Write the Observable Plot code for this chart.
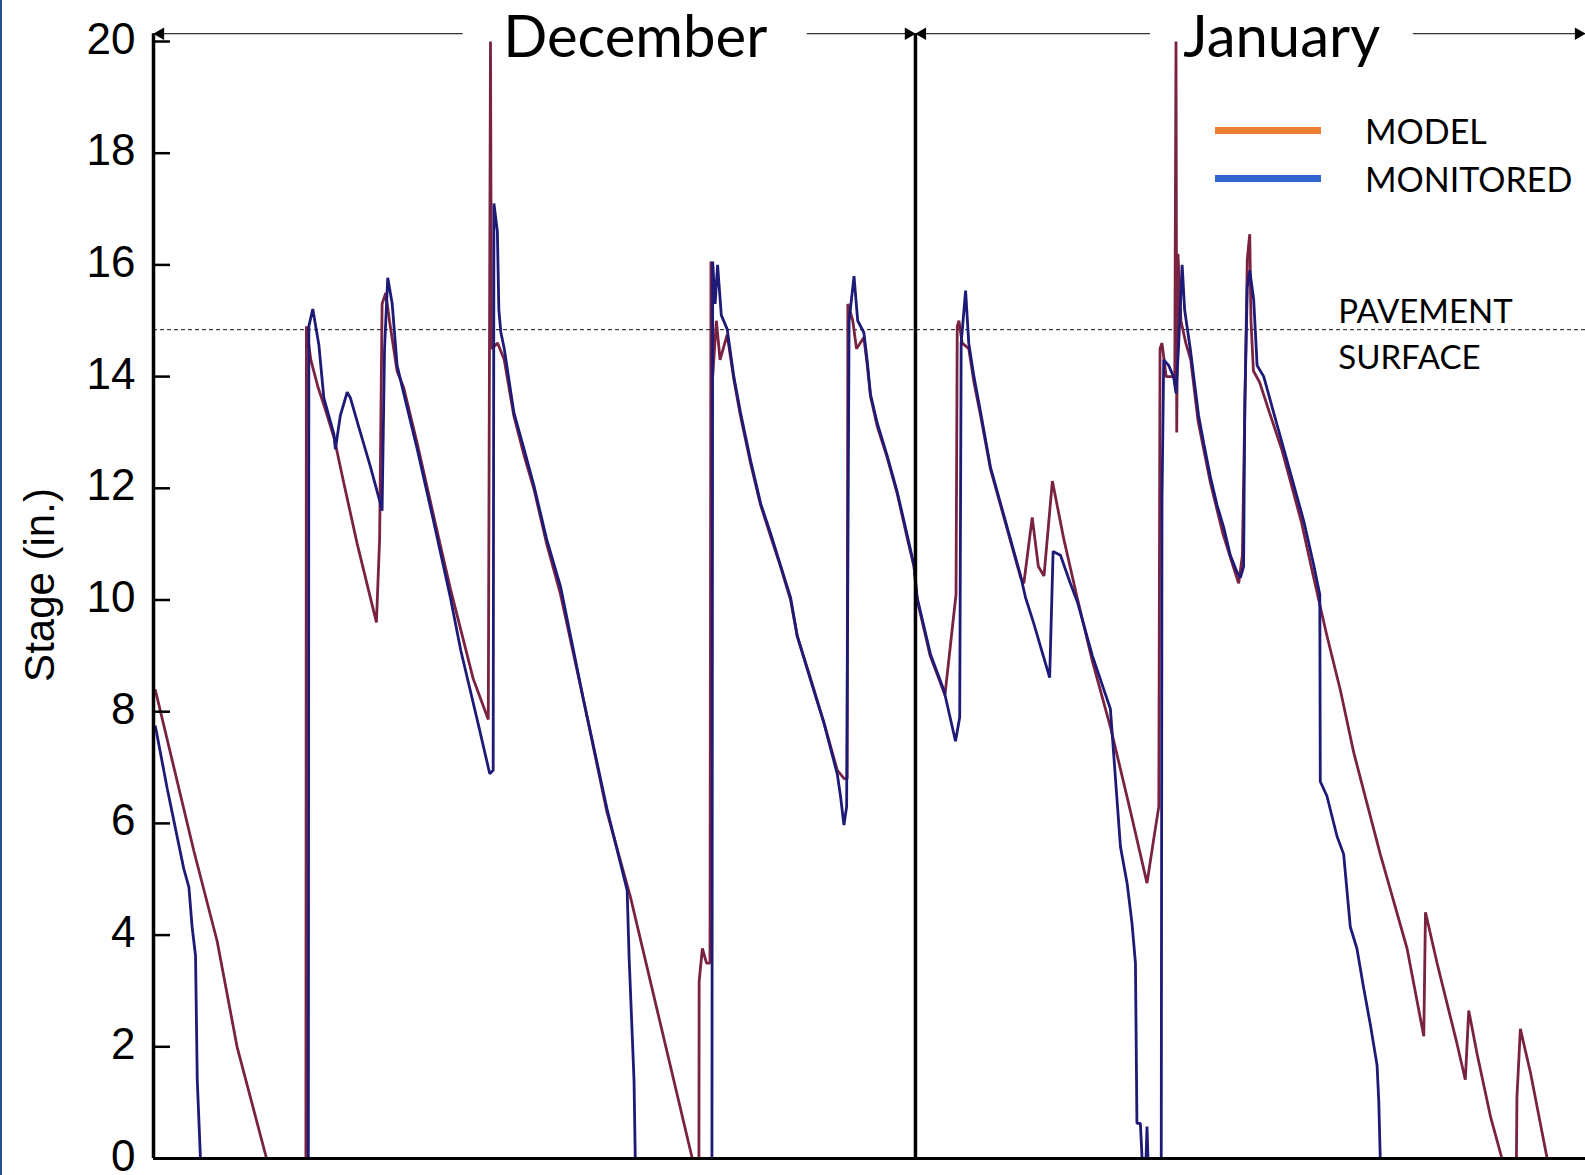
<!DOCTYPE html>
<html>
<head>
<meta charset="utf-8">
<script src="https://cdn.jsdelivr.net/npm/d3@7"></script>
<script src="https://cdn.jsdelivr.net/npm/@observablehq/plot@0.6"></script>
<style>
  html, body { margin: 0; padding: 0; background: #fff; }
  #wrap { position: relative; width: 1585px; height: 1175px; overflow: hidden; }
  #edge { position: absolute; left: 0; top: 0; width: 2px; height: 1175px; background: #24508c; }
  .sw { position: absolute; left: 1215px; width: 106px; height: 7px; }
  .lt { position: absolute; left: 1365px; font-family: Lato, "Open Sans", sans-serif; font-size: 34px; line-height: 34px; color: #000; white-space: nowrap; }
  svg g[aria-label="y-axis tick label"] text { font-family: "Liberation Sans", Arial, sans-serif; font-size: 44px; fill: #000; }
</style>
</head>
<body>
<div id="wrap"><div id="edge"></div></div>
<script>
// ---- data (x = days since 1 December, y = stage in inches) ----
const yTicks = [0, 2, 4, 6, 8, 10, 12, 14, 16, 18, 20];
const yLabel = "Stage (in.)";
const pavementStage = 14.84;
const pavementLabel = ["PAVEMENT", "SURFACE"];
const monthNames = ["December", "January"];
const monthLabelX = [19.6, 45.9];
const monthBoundary = 31;
const xEnd = 58.26;
const topLineY = 20.14;
const monthArrows = [
  {x1: 12.6, x2: 0}, {x1: 26.6, x2: 31}, {x1: 40.56, x2: 31}, {x1: 51.26, x2: 58.26}
];
const seriesNames = ["MODEL", "MONITORED"];
const legendColors = ["#ED7D31", "#3366CC"];
const lineColors = ["#7a2242", "#1e1a78"];

const model = [
  [0.08,8.38],[1.64,5.51],[2.59,3.89],[3.4,2.0],[4.6,0],
  [6.2,0],[6.22,14.9],[6.4,14.3],[6.7,13.8],[7.0,13.4],[7.35,12.9],[7.74,12.1],[8.29,11.0],[9.07,9.6],
  [9.2,11.1],[9.3,15.3],[9.45,15.5],[9.6,15.0],[9.91,14.1],[10.18,13.8],[10.73,12.8],[11.4,11.5],
  [12.08,10.2],[13.0,8.6],[13.62,7.86],
  [13.71,20.0],[13.75,14.5],[14.0,14.6],[14.27,14.3],[14.66,13.3],[15.07,12.6],[15.47,12.0],[16.0,11.0],
  [16.56,10.1],[17.5,8.2],[18.45,6.2],[19.41,4.67],[21.92,0],
  [22.19,0],[22.2,3.17],[22.33,3.76],[22.5,3.5],[22.64,3.5],[22.68,16.06],[22.75,14.0],[22.9,15.0],
  [23.05,14.3],[23.34,14.75],[23.61,13.95],[23.88,13.3],[24.29,12.45],[24.7,11.7],[25.1,11.15],
  [25.51,10.6],[25.92,10.0],[26.19,9.35],[26.73,8.6],[27.28,7.8],[27.82,6.95],[28.1,6.8],[28.22,6.8],
  [28.25,15.3],[28.45,15.0],[28.6,14.5],[28.9,14.7],[29.04,14.2],[29.17,13.65],[29.45,13.1],[29.85,12.55],
  [30.26,11.9],[30.67,11.1],[30.94,10.6],[31.07,10.0],[31.6,9.0],[32.2,8.3],[32.5,9.5],[32.65,10.1],
  [32.7,14.9],[32.77,15.0],[32.9,14.6],[33.17,14.5],[33.38,13.9],[33.65,13.3],[34.05,12.35],[34.46,11.7],
  [34.87,11.05],[35.28,10.4],[35.41,10.3],[35.75,11.48],[36.0,10.6],[36.23,10.43],[36.57,12.13],
  [37.04,11.08],[37.58,10.04],[38.2,8.9],[38.93,7.73],[39.74,6.23],[40.42,4.93],[40.69,5.71],[40.9,6.3],
  [40.95,14.5],[41.03,14.6],[41.2,14.0],[41.55,14.0],[41.6,20.0],[41.63,13.0],[41.68,16.2],[41.8,15.0],
  [42.0,14.6],[42.2,14.3],[42.5,13.2],[43.0,12.1],[43.5,11.2],[44.0,10.5],[44.15,10.3],[44.3,10.8],
  [44.35,12.1],[44.5,16.1],[44.6,16.55],[44.65,15.0],[44.75,14.1],[45.0,13.9],[45.4,13.36],[45.9,12.7],
  [46.3,12.05],[46.7,11.4],[47.1,10.6],[47.47,9.88],[47.74,9.36],[48.29,8.38],[48.83,7.27],[49.37,6.36],
  [49.91,5.45],[50.46,4.6],[51.0,3.76],[51.68,2.19],[51.75,4.41],[52.22,3.5],[53.03,2.06],[53.37,1.41],
  [53.51,2.65],[53.85,1.87],[54.39,0.76],[54.86,0],[55.45,0],[55.47,1.09],[55.61,2.32],[56.02,1.54],
  [56.7,0],[58.26,0]
];

const monitored = [
  [0.08,7.73],[0.56,6.62],[1.23,5.19],[1.44,4.86],[1.57,4.15],[1.71,3.63],[1.78,1.41],[1.91,0],
  [6.3,0],[6.32,14.9],[6.48,15.21],[6.73,14.56],[6.93,13.62],[7.34,12.97],[7.4,12.7],[7.6,13.3],
  [7.88,13.72],[8.01,13.62],[8.35,13.1],[8.83,12.38],[9.23,11.73],[9.3,11.6],[9.4,14.5],[9.53,15.77],
  [9.71,15.31],[9.91,14.2],[10.18,13.7],[10.73,12.7],[11.4,11.4],[12.08,10.04],[12.5,9.1],[13.2,7.8],
  [13.68,6.89],[13.82,6.95],[13.85,17.1],[13.99,16.6],[14.05,15.2],[14.13,14.8],[14.27,14.5],
  [14.66,13.36],[15.07,12.71],[15.47,12.06],[16.0,11.08],[16.56,10.24],[17.5,8.2],[18.45,6.26],
  [19.27,4.8],[19.35,3.6],[19.55,1.4],[19.6,0],
  [22.72,0],[22.75,16.06],[22.85,15.3],[22.95,16.0],[23.1,15.1],[23.34,14.85],[23.61,14.0],[23.88,13.36],
  [24.29,12.5],[24.7,11.73],[25.1,11.2],[25.51,10.62],[25.92,10.04],[26.19,9.36],[26.73,8.57],[27.28,7.79],
  [27.82,6.88],[27.95,6.49],[28.09,5.97],[28.2,6.3],[28.3,15.0],[28.5,15.8],[28.65,15.0],[28.9,14.79],
  [29.04,14.27],[29.17,13.68],[29.45,13.16],[29.85,12.58],[30.26,11.93],[30.67,11.15],[30.94,10.62],
  [31.07,10.04],[31.61,9.03],[32.16,8.38],[32.63,7.47],[32.8,7.9],[32.86,14.6],[33.04,15.54],[33.17,14.59],
  [33.38,14.0],[33.65,13.36],[34.05,12.38],[34.46,11.73],[34.87,11.08],[35.28,10.43],[35.48,10.04],
  [35.8,9.6],[36.2,9.0],[36.46,8.61],[36.6,10.87],[36.9,10.8],[37.3,10.3],[37.6,9.95],[38.2,9.0],
  [38.93,8.05],[39.34,5.58],[39.61,4.93],[39.81,4.21],[39.95,3.5],[40.01,0.63],[40.15,0.63],[40.22,0],
  [40.38,0],[40.42,0.57],[40.46,0],[41.0,0],[41.03,11.8],[41.1,14.3],[41.3,14.2],[41.5,14.0],[41.6,13.7],
  [41.7,14.5],[41.85,16.0],[41.95,15.2],[42.18,14.5],[42.32,14.0],[42.52,13.3],[42.73,12.8],[43.0,12.2],
  [43.27,11.7],[43.54,11.3],[43.81,10.8],[44.08,10.5],[44.22,10.4],[44.35,10.6],[44.4,13.5],[44.5,15.6],
  [44.6,15.9],[44.76,15.38],[44.9,14.2],[45.17,14.0],[45.57,13.36],[45.98,12.71],[46.39,12.06],
  [46.8,11.41],[47.2,10.63],[47.45,10.1],[47.47,6.75],[47.74,6.49],[48.15,5.77],[48.42,5.45],[48.69,4.15],
  [48.96,3.76],[49.24,3.04],[49.51,2.39],[49.78,1.67],[49.85,1.02],[49.91,0],[58.26,0]
];

// ---- chart ----
const fontTitle = "Lato, 'Open Sans', sans-serif";
const months = monthNames.map((name, i) => ({name, x: monthLabelX[i]}));
const leftArrows = monthArrows.filter(d => d.x2 < d.x1);
const rightArrows = monthArrows.filter(d => d.x2 > d.x1);

const chart = Plot.plot({
  width: 1585,
  height: 1175,
  marginLeft: 153,
  marginRight: 0,
  marginTop: 41,
  marginBottom: 17,
  style: {background: "transparent", overflow: "visible"},
  x: {domain: [0, xEnd], axis: null},
  y: {domain: [0, 20], axis: null},
  marks: [
    // pavement surface
    Plot.ruleY([pavementStage], {stroke: "#111", strokeWidth: 1, strokeDasharray: "4,3"}),
    Plot.text([pavementLabel[0]], {x: 48.2, y: pavementStage, text: d => d, textAnchor: "start", lineAnchor: "bottom", dy: -7, fontSize: 33, fontFamily: fontTitle, fill: "#000"}),
    Plot.text([pavementLabel[1]], {x: 48.2, y: pavementStage, text: d => d, textAnchor: "start", lineAnchor: "top", dy: 16, fontSize: 33, fontFamily: fontTitle, fill: "#000"}),
    // series
    Plot.line(model, {x: d => d[0], y: d => d[1], stroke: lineColors[0], strokeWidth: 2.8, strokeLinejoin: "miter"}),
    Plot.line(monitored, {x: d => d[0], y: d => d[1], stroke: lineColors[1], strokeWidth: 2.8, strokeLinejoin: "miter"}),
    // frame
    Plot.ruleX([0], {y1: 0, y2: topLineY, stroke: "#000", strokeWidth: 3.5}),
    Plot.ruleY([0], {stroke: "#000", strokeWidth: 3}),
    Plot.ruleX([monthBoundary], {y1: 0, y2: topLineY, stroke: "#000", strokeWidth: 3.5}),
    // y axis ticks (inward) and labels
    Plot.axisY(yTicks, {anchor: "left", tickSize: -17, tickFormat: () => "", strokeWidth: 2.5, stroke: "#000"}),
    Plot.axisY(yTicks, {anchor: "left", tickSize: 0, tickPadding: 18, dy: -2, tickFormat: d => String(d), label: null}),
    Plot.text([yLabel], {frameAnchor: "left", text: d => d, rotate: -90, textAnchor: "middle", dx: -100, dy: -15, lineAnchor: "bottom", fontSize: 42, fontFamily: "'Liberation Sans', Arial, sans-serif", fill: "#000"}),
    // month span arrows
    Plot.ruleY(monthArrows, {x1: "x1", x2: "x2", y: topLineY, stroke: "#333", strokeWidth: 1.3}),
    Plot.dot(leftArrows, {x: "x2", y: topLineY, symbol: "triangle2", rotate: -90, r: 6, dx: 7, fill: "#000", stroke: "none"}),
    Plot.dot(rightArrows, {x: "x2", y: topLineY, symbol: "triangle2", rotate: 90, r: 6, dx: -7, fill: "#000", stroke: "none"}),
    Plot.text(months, {x: "x", y: topLineY, text: "name", lineAnchor: "middle", dy: 5, fontSize: 58, fontFamily: fontTitle, fill: "#000"})
  ]
});

const wrap = document.getElementById("wrap");
wrap.appendChild(chart);

// legend (inside the plot area, top right)
const legendTops = [127, 175];
const textTops = [114, 162];
seriesNames.forEach((name, i) => {
  const sw = document.createElement("div");
  sw.className = "sw";
  sw.style.top = legendTops[i] + "px";
  sw.style.background = legendColors[i];
  wrap.appendChild(sw);
  const t = document.createElement("div");
  t.className = "lt";
  t.style.top = textTops[i] + "px";
  t.textContent = name;
  wrap.appendChild(t);
});
</script>
</body>
</html>
